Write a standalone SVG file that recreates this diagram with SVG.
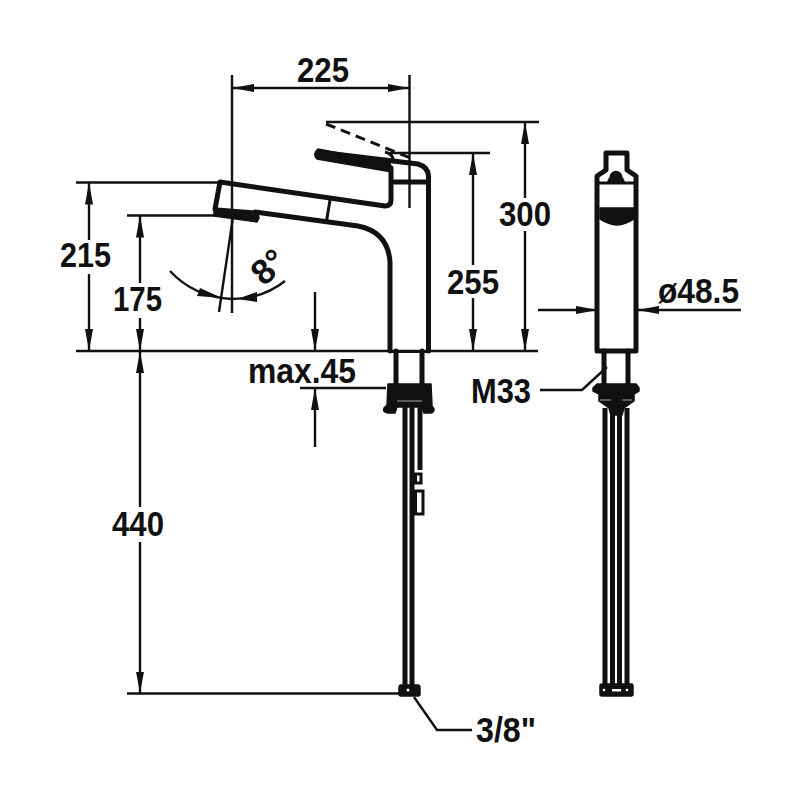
<svg xmlns="http://www.w3.org/2000/svg" width="800" height="800" viewBox="0 0 800 800">
<style>
.d{fill:none;stroke:#111;stroke-width:2.4}
.o{fill:none;stroke:#111;stroke-width:5;stroke-linejoin:round;stroke-linecap:round}
.t{fill:none;stroke:#111;stroke-width:3}
.f{fill:#111;stroke:#111;stroke-width:1.5;stroke-linejoin:round}
.p{fill:none;stroke:#111;stroke-width:5}
.w{fill:#fff}
text{font-family:"Liberation Sans",Arial,sans-serif;font-weight:700;font-size:35px;fill:#111}
</style>
<defs>
<marker id="a" markerUnits="userSpaceOnUse" markerWidth="24" markerHeight="10" refX="22" refY="5" orient="auto-start-reverse"><path d="M0 1L22 5L0 9Z" fill="#111"/></marker>
</defs>
<rect width="800" height="800" fill="#fff"/>
<g id="connectors">
<path class="d" d="M76 182.500H218M127 215.500H216M76 351H538M127 693.500H400M232 75V313M409.500 75V208M326 122H539M390 153H490M300 388H386"/>
<path class="d" marker-start="url(#a)" marker-end="url(#a)" d="M232 88H409.500"/>
<path class="d" marker-start="url(#a)" d="M89 182.500V240"/>
<path class="d" marker-end="url(#a)" d="M89 274V351"/>
<path class="d" marker-start="url(#a)" d="M140 215.500V283"/>
<path class="d" marker-end="url(#a)" d="M140 318V351"/>
<path class="d" marker-start="url(#a)" d="M140 351V507"/>
<path class="d" marker-end="url(#a)" d="M140 542V693.500"/>
<path class="d" marker-start="url(#a)" d="M473 153V265"/>
<path class="d" marker-end="url(#a)" d="M473 298V351"/>
<path class="d" marker-start="url(#a)" d="M525 122V198"/>
<path class="d" marker-end="url(#a)" d="M525 231V351"/>
<path class="d" marker-end="url(#a)" d="M315 292V351"/>
<path class="d" marker-end="url(#a)" d="M315 447V388"/>
<path class="d" marker-end="url(#a)" d="M538 310H598"/>
<path class="d" marker-end="url(#a)" d="M741 310H637"/>
<path class="d" d="M219 312L233 217"/>
<path class="d" d="M170 271Q194 297 232 299Q262 299 285 281"/>
<path d="M200 288L222 298L197 296Z" fill="#111"/>
<path d="M257 292L237 299L257 302Z" fill="#111"/>
<path class="d" d="M540 390H582L607 367"/>
<path class="d" d="M414 697L437 730H472"/>
</g>
<g id="faucet-side">
<path d="M326 124L413 159" stroke="#111" stroke-width="3" stroke-dasharray="10 6" fill="none"/>
<path class="t" d="M385 152Q393 154 393 160"/>
<path class="f" d="M318 149L390 163L392 172L317 159Q312 154 318 149Z"/>
<path class="o" d="M318 152L418 164Q428 167 428.500 176V351M391 168V200Q391 206 385 206L220 182L215 209M391 182H428"/>
<path class="o" d="M390 351V262Q388 232 358 226L255 212"/>
<path class="t" d="M330 200L326.500 221"/>
<path class="f" d="M214 208L252 211Q259 212 259 218L257 222L214 216Z"/>
<path class="o" d="M396 351V384M422 351V384"/>
<path class="t" d="M389 351.500H429"/>
<path class="f" d="M388 384H431L432 406L434 409Q434 413 430 413H424L422 407H397L395 413H388Q382 412 384 408L387 405Z"/>
<path d="M397 401H422" stroke="#aaa" stroke-width="1"/>
<path class="p" d="M405 407V685M412 407V685"/>
<path class="p" d="M420 407V470"/>
<path class="t" d="M415.500 474H421V483H415.500ZM415.500 491H423V514H415.500Z"/>
<path class="f" d="M401 685H418Q420 685 420 688V694Q420 696 418 696H401Q399 696 399 694V688Q399 685 401 685Z"/>
<circle cx="408" cy="690" r="1.500" class="w"/>
</g>
<g id="faucet-front">
<path class="o" d="M597 351V176L606 170V153H627V170L636 176V351H597Z"/>
<path class="t" d="M597 183H636"/>
<path class="f" d="M608 183A8 8 0 0 1 624 183Z"/>
<circle cx="616" cy="177" r="5.500" class="f"/>
<path class="f" d="M600 208H634V219Q625 225 617 225Q609 225 600 219Z"/>
<path class="o" d="M604 351V384M628 351V384"/>
<path class="f" d="M597 384H636L639 388L639 391L634 394L634 401L624 408L622 415H611L609 408L599 401L599 394L593 391L593 388Z"/>
<path d="M600 400H611M622 400H632" stroke="#aaa" stroke-width="1"/>
<path class="p" d="M605 408V684M612.500 410V684M619.500 410V684M627 408V684"/>
<path class="f" d="M602 684H632Q633 684 633 686V694Q633 696 631 696H602Q600 696 600 694V686Q600 684 602 684Z"/>
<rect x="612" y="689" width="9" height="2.500" class="w"/>
<circle cx="604" cy="690" r="1.300" class="w"/>
<circle cx="627" cy="690" r="1.300" class="w"/>
</g>
<g id="labels">
<text x="297" y="82" textLength="52" lengthAdjust="spacingAndGlyphs">225</text>
<text x="60" y="267" textLength="51" lengthAdjust="spacingAndGlyphs">215</text>
<text x="113" y="311" textLength="49" lengthAdjust="spacingAndGlyphs">175</text>
<text x="499" y="226" textLength="52" lengthAdjust="spacingAndGlyphs">300</text>
<text x="447" y="294" textLength="52" lengthAdjust="spacingAndGlyphs">255</text>
<text x="112" y="536" textLength="52" lengthAdjust="spacingAndGlyphs">440</text>
<text x="248" y="383" textLength="108" lengthAdjust="spacingAndGlyphs">max.45</text>
<text x="658" y="303" textLength="81" lengthAdjust="spacingAndGlyphs">ø48.5</text>
<text x="471" y="403" textLength="60" lengthAdjust="spacingAndGlyphs">M33</text>
<text x="476" y="742" textLength="60" lengthAdjust="spacingAndGlyphs">3/8"</text>
<text transform="translate(264 287) rotate(-42)">8°</text>
</g>
</svg>
